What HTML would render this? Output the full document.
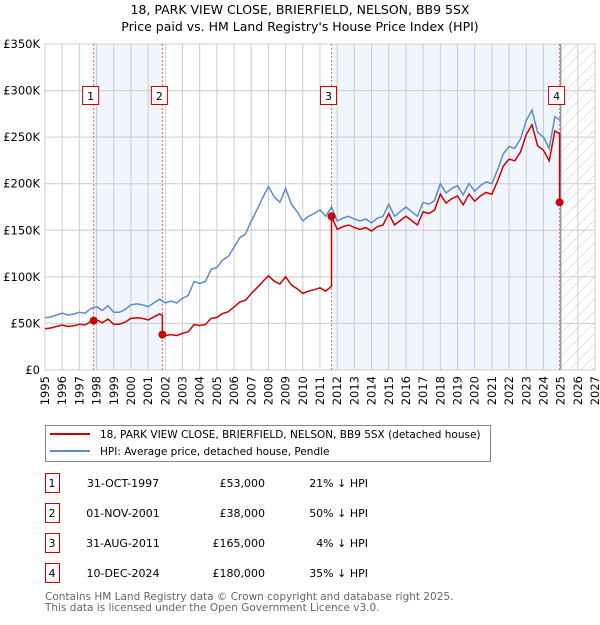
<!DOCTYPE html>
<html><head><meta charset="utf-8"><style>
body{margin:0;background:#fff;font-family:"Liberation Sans","DejaVu Sans",sans-serif;}
svg text{font-family:"DejaVu Sans","Liberation Sans",sans-serif;}
</style></head><body>
<svg id="c" width="600" height="620" xmlns="http://www.w3.org/2000/svg">
<defs><pattern id="hatch" width="8" height="8" patternUnits="userSpaceOnUse" patternTransform="rotate(45)"><line x1="0" y1="0" x2="0" y2="8" stroke="#ccc" stroke-width="1"/></pattern></defs>
<text x="300" y="14" text-anchor="middle" font-size="12.5">18, PARK VIEW CLOSE, BRIERFIELD, NELSON, BB9 5SX</text>
<text x="300" y="31" text-anchor="middle" font-size="12.5">Price paid vs. HM Land Registry's House Price Index (HPI)</text>
<g id="plot"></g>
<g>
<rect x="45.5" y="425.5" width="445" height="36" fill="#fff" stroke="#888"/>
<line x1="50" y1="434" x2="90" y2="434" stroke="#cc0000" stroke-width="2"/>
<text x="100" y="438" font-size="10.5">18, PARK VIEW CLOSE, BRIERFIELD, NELSON, BB9 5SX (detached house)</text>
<line x1="50" y1="451" x2="90" y2="451" stroke="#5b8bd0" stroke-width="2"/>
<text x="100" y="455" font-size="10.5">HPI: Average price, detached house, Pendle</text>
</g>
<g id="table" font-size="11"></g>
<text x="45" y="600" font-size="10.5" fill="#666">Contains HM Land Registry data © Crown copyright and database right 2025.</text>
<text x="45" y="611" font-size="10.5" fill="#666">This data is licensed under the Open Government Licence v3.0.</text>
</svg>
<script>
const hpiValues=[56,57,59,61,59,60,62,61,66,68,64,69,62,62,65,70,71,70,68,72,76,72,74,72,77,80,95,93,95,108,110,118,122,132,142,146,160,172,185,197,186,180,195,178,170,160,165,168,172,165,175,160,163,165,162,160,162,158,163,165,178,165,170,175,170,165,180,178,182,200,190,195,198,188,200,192,198,202,200,215,232,240,238,248,268,279,255,250,238,272,268];
const hpiStart=1995;
const saleLabels=["1","2","3","4"];
const saleDates=[1997.83,2001.83,2011.67,2024.94];
const salePrices=[53000,38000,165000,180000];
const saleDateText=["31-OCT-1997","01-NOV-2001","31-AUG-2011","10-DEC-2024"];
const salePriceText=["£53,000","£38,000","£165,000","£180,000"];
const salePctText=["21% ↓ HPI","50% ↓ HPI","4% ↓ HPI","35% ↓ HPI"];
const yTicks=[0,50000,100000,150000,200000,250000,300000,350000];
const yTickLabels=["£0","£50K","£100K","£150K","£200K","£250K","£300K","£350K"];
const xYears=[1995,1996,1997,1998,1999,2000,2001,2002,2003,2004,2005,2006,2007,2008,2009,2010,2011,2012,2013,2014,2015,2016,2017,2018,2019,2020,2021,2022,2023,2024,2025,2026,2027];

const NS="http://www.w3.org/2000/svg";
const L=45,R=595,T=44,B=370,x0=1995,x1=2027,yMax=350000,dataEnd=2025;
const X=t=>L+(t-x0)/(x1-x0)*(R-L);
const Y=v=>B-v/yMax*(B-T);
const g=document.getElementById('plot');
function el(tag,attrs,parent){const e=document.createElementNS(NS,tag);for(const k in attrs)e.setAttribute(k,attrs[k]);(parent||g).appendChild(e);return e;}
const hpiT=i=>hpiStart+i/3;
function hpiAt(t){const f=(t-hpiStart)*3;const i=Math.max(0,Math.min(hpiValues.length-2,Math.floor(f)));const r=f-i;return (hpiValues[i]*(1-r)+hpiValues[i+1]*r)*1000;}

for(let k=0;k<saleDates.length;k+=2){
 const b=el('rect',{x:X(saleDates[k]),y:T,width:X(saleDates[k+1])-X(saleDates[k]),height:B-T,fill:'#eef3fd',opacity:0.8});
 
 
}
const h=el('rect',{x:X(dataEnd),y:T,width:R-X(dataEnd),height:B-T,fill:'url(#hatch)'});


xYears.forEach(yr=>{
 const l=el('line',{x1:X(yr),x2:X(yr),y1:T,y2:B,stroke:'#ccc','stroke-width':1});
 
 
 const tx=X(yr)+4;
 const t=el('text',{x:0,y:0,'font-size':11.5,'text-anchor':'end',transform:`translate(${tx},376) rotate(-90)`});
 t.textContent=yr;
 
 
});
yTicks.forEach((v,i)=>{
 const l=el('line',{x1:L,x2:R,y1:Y(v),y2:Y(v),stroke:'#ccc','stroke-width':1});
 
 
 const t=el('text',{x:40,y:Y(v)+4,'font-size':11.5,'text-anchor':'end'});
 t.textContent=yTickLabels[i];
 
 
});
const dl=el('line',{x1:X(dataEnd),x2:X(dataEnd),y1:T,y2:B,stroke:'#999','stroke-width':1.5});


const bd=el('rect',{x:L,y:T,width:R-L,height:B-T,fill:'none',stroke:'#ccc'});


saleDates.forEach(d=>{
 const l=el('line',{x1:X(d),x2:X(d),y1:T,y2:B,stroke:'#ee6666','stroke-width':1,'stroke-dasharray':'2,2'});
 
 
});
let p='';hpiValues.forEach((v,i)=>{p+=(i?'L':'M')+X(hpiT(i)).toFixed(1)+','+Y(v*1000).toFixed(1);});
const hl=el('path',{d:p,fill:'none',stroke:'#5b8bd0','stroke-width':1.5});


const factors=saleDates.map((d,k)=>salePrices[k]/hpiAt(d));
function fac(t){let f=factors[0];for(let k=0;k<saleDates.length;k++){if(t>=saleDates[k])f=factors[k];}return f;}
let pts=[];
hpiValues.forEach((v,i)=>{const t=hpiT(i);
 saleDates.forEach((d,k)=>{if(d>hpiT(i-1)&&d<=t&&i>0){pts.push([d,hpiAt(d)*(k?factors[k-1]:factors[0])]);pts.push([d,salePrices[k]]);}});
 if(t<=saleDates[saleDates.length-1])pts.push([t,v*1000*fac(t)]);
});
pts.push([saleDates[3],salePrices[3]]);
let pp='';pts.forEach((q,i)=>{pp+=(i?'L':'M')+X(q[0]).toFixed(1)+','+Y(q[1]).toFixed(1);});
const rl=el('path',{d:pp,fill:'none',stroke:'#cc0000','stroke-width':1.5});


saleDates.forEach((d,k)=>{
 const c=el('circle',{cx:X(d),cy:Y(salePrices[k]),r:4,fill:'#cc0000'});
 
 
 const bx=el('rect',{x:X(d)-11,y:86.5,width:16,height:18,fill:'#fff',stroke:'#cc0000'});
 
 
 const t=el('text',{x:X(d)-3,y:100,'font-size':11,'text-anchor':'middle'});
 t.textContent=saleLabels[k];
 
 
});
const tb=document.getElementById('table');
saleLabels.forEach((s,k)=>{
 const y=483+k*30;
 const r=el('rect',{x:45.5,y:y-9.5,width:14,height:19,fill:'#fff',stroke:'#cc0000'},tb);
 
 
 const cols=[[52,'middle',s,'table-row-number'],[123,'middle',saleDateText[k],'table-row-date'],[265,'end',salePriceText[k],'table-row-price'],[368,'end',salePctText[k],'table-row-hpi-diff']];
 cols.forEach(c=>{const t=el('text',{x:c[0],y:y+4,'text-anchor':c[1],'font-size':11},tb);t.textContent=c[2];
 
 });
});
</script>
</body></html>
